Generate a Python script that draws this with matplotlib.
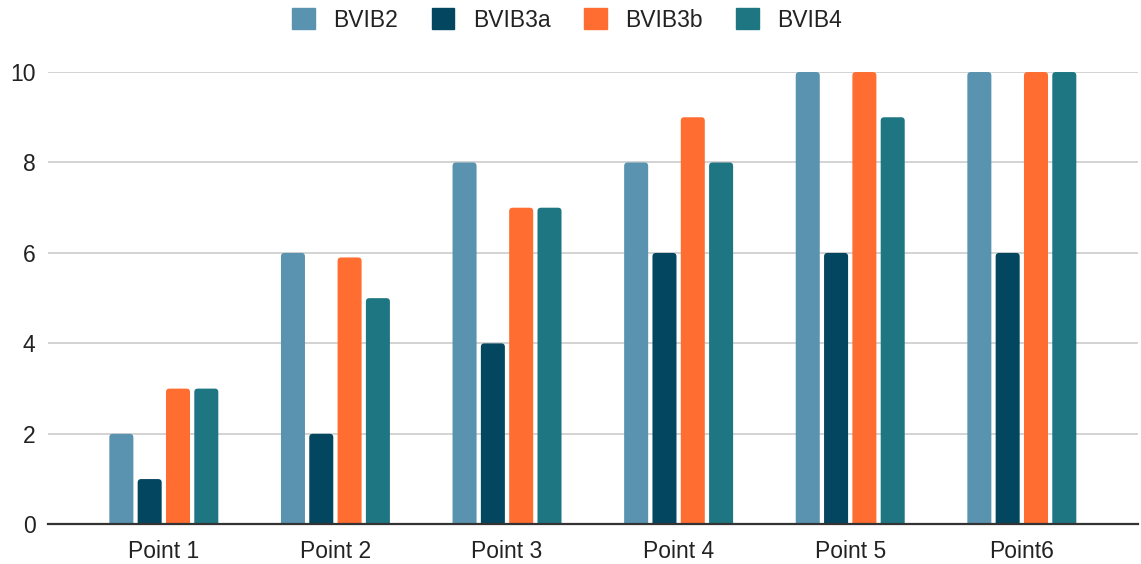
import matplotlib.pyplot as plt
import numpy as np
from matplotlib.path import Path
from matplotlib.patches import PathPatch

plt.rcParams['font.family'] = ['Liberation Sans', 'DejaVu Sans']

# Data
points = ['Point 1', 'Point 2', 'Point 3', 'Point 4', 'Point 5', 'Point6']
series = ['BVIB2', 'BVIB3a', 'BVIB3b', 'BVIB4']
bvib2 = [2, 6, 8, 8, 10, 10]
bvib3a = [1, 2, 4, 6, 6, 6]
bvib3b = [3, 5.9, 7, 9, 10, 10]
bvib4 = [3, 5, 7, 8, 9, 10]
colors = ['#5a93b0', '#03465f', '#ff6d31', '#1e7682']

fig = plt.figure(figsize=(11.41, 5.64), dpi=100)
ax = fig.add_axes([48 / 1141, 0.0704, 1090 / 1141, 0.8019])

x = np.arange(len(points))
pitch = 0.165
width = 0.14
xmin, xmax = -0.675, 5.677
ymin, ymax = 0, 10


def rounded_top(x0, w, h, rx, ry):
    # bar outline with rounded upper corners (quadratic curves)
    verts = [(x0, 0), (x0, h - ry), (x0, h), (x0 + rx, h),
             (x0 + w - rx, h), (x0 + w, h), (x0 + w, h - ry),
             (x0 + w, 0), (x0, 0)]
    codes = [Path.MOVETO, Path.LINETO, Path.CURVE3, Path.CURVE3,
             Path.LINETO, Path.CURVE3, Path.CURVE3,
             Path.LINETO, Path.CLOSEPOLY]
    return Path(verts, codes)


# pixel -> data scale for the corner radius
rx = 3.5 / (1090 / (xmax - xmin))
ry = 3.5 / (452.3 / (ymax - ymin))

for i, (name, vals, c) in enumerate(zip(series, [bvib2, bvib3a, bvib3b, bvib4], colors)):
    offs = (i - 1.5) * pitch
    bars = ax.bar(x + offs, vals, width, color=c, label=name, alpha=0)
    for b in bars:
        p = rounded_top(b.get_x(), b.get_width(), b.get_height(), rx, min(ry, b.get_height()))
        ax.add_patch(PathPatch(p, facecolor=c, edgecolor='none', clip_on=False, zorder=3))

ax.set_xlim(xmin, xmax)
ax.set_ylim(ymin, ymax)
ax.set_xticks(x)
ax.set_xticklabels(points)
ax.set_yticks([0, 2, 4, 6, 8, 10])
ax.tick_params(axis='both', length=0, labelsize=16.5, colors='#222222')
ax.tick_params(axis='y', pad=9)
ax.tick_params(axis='x', pad=11)
ax.grid(True, axis='y', color='#cccccc', linewidth=1.2, zorder=0)
ax.set_axisbelow(True)
for s in ['top', 'right', 'left']:
    ax.spines[s].set_visible(False)
ax.spines['bottom'].set_color('#333333')
ax.spines['bottom'].set_linewidth(1.6)
ax.spines['bottom'].set_zorder(4)

handles = [plt.Rectangle((0, 0), 1, 1, color=c) for c in colors]
fig.legend(handles, series, loc='center', bbox_to_anchor=(567 / 1141, 1 - 20 / 564),
           ncol=4, frameon=False, fontsize=16.5, handlelength=1.0, handleheight=1.0,
           handletextpad=0.8, columnspacing=1.45, labelcolor='#222222')

plt.savefig('out.png', dpi=100)
